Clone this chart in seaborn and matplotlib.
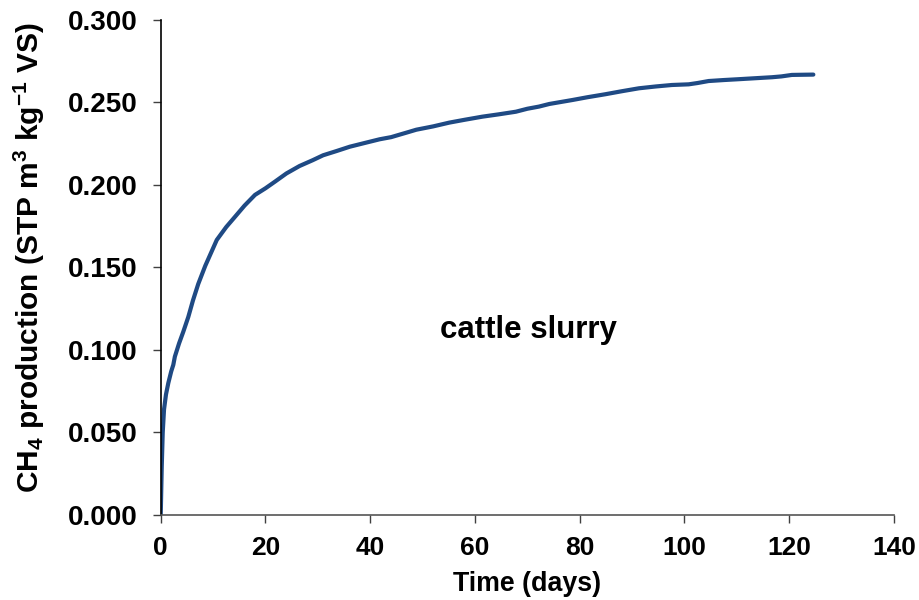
import matplotlib
matplotlib.use("Agg")
import matplotlib.pyplot as plt
import seaborn as sns
import pandas as pd

days = [0, 0.19, 0.38, 0.63, 1.0, 1.45, 2.0, 2.4, 2.7, 3.5, 4.3, 5.26, 6.15, 7.16, 8.5,
        10.7, 12.5, 14.2, 16.0, 18.0, 20.0, 21.8, 24.0, 26.5, 29.0, 31.0, 33.5, 36.1,
        39.0, 41.8, 44.0, 45.6, 47.0, 48.8, 52.0, 55.1, 58.0, 61.4, 64.5, 67.8, 70.0,
        72.2, 74.2, 78.6, 81.5, 84.9, 88.0, 91.3, 94.5, 97.6, 100.8, 102.5, 104.6,
        107.5, 110.3, 113.5, 116.7, 118.5, 120.5, 122.5, 124.6]
ch4 = [0.000, 0.029, 0.050, 0.064, 0.073, 0.080, 0.087, 0.091, 0.096, 0.104, 0.111,
       0.120, 0.130, 0.140, 0.151, 0.1667, 0.1745, 0.1808, 0.1875, 0.194, 0.198,
       0.202, 0.207, 0.2115, 0.215, 0.218, 0.2205, 0.2232, 0.2255, 0.2277, 0.229,
       0.2305, 0.2318, 0.2335, 0.2355, 0.2378, 0.2395, 0.2414, 0.2428, 0.2444,
       0.2462, 0.2475, 0.2491, 0.2515, 0.2532, 0.255, 0.2568, 0.2586, 0.2597,
       0.2606, 0.261, 0.2618, 0.263, 0.2636, 0.2641, 0.2647, 0.2653, 0.2658,
       0.2667, 0.2668, 0.2669]

x_ticks = [0, 20, 40, 60, 80, 100, 120, 140]
y_ticks = [0.0, 0.05, 0.10, 0.15, 0.20, 0.25, 0.30]
y_tick_labels = ["0.000", "0.050", "0.100", "0.150", "0.200", "0.250", "0.300"]

df = pd.DataFrame({"Time (days)": days, "CH4": ch4})

sns.set_theme(style="ticks")
plt.rcParams["font.family"] = ["Liberation Sans", "DejaVu Sans"]
plt.rcParams["font.weight"] = "bold"
plt.rcParams["mathtext.fontset"] = "custom"
plt.rcParams["mathtext.rm"] = "Liberation Sans:bold"
plt.rcParams["mathtext.it"] = "Liberation Sans:bold"
plt.rcParams["mathtext.bf"] = "Liberation Sans:bold"
plt.rcParams["mathtext.default"] = "rm"

fig = plt.figure(figsize=(9.19, 6.0), dpi=100)
ax = fig.add_axes([0.1749, 0.1417, 0.9728 - 0.1749, 0.9667 - 0.1417])

sns.lineplot(data=df, x="Time (days)", y="CH4", ax=ax, color="#1F4A84",
             linewidth=3.0, estimator=None, sort=False)

ax.set_xlim(0, 140)
ax.set_ylim(0, 0.30)
ax.set_xticks(x_ticks)
ax.set_xticklabels([str(t) for t in x_ticks])
ax.set_yticks(y_ticks)
ax.set_yticklabels(y_tick_labels)

for lab in ax.get_yticklabels():
    lab.set_fontweight("bold")
    lab.set_fontsize(20)
    lab.set_color("black")
for lab in ax.get_xticklabels():
    lab.set_fontweight("bold")
    lab.set_fontsize(19)
    lab.set_color("black")

ax.tick_params(axis="y", direction="out", length=5.5, width=1.0, color="#404040", pad=11)
ax.tick_params(axis="x", direction="out", length=6, width=1.0, color="#404040", pad=9)

sns.despine(ax=ax)
ax.spines["left"].set_color("black")
ax.spines["bottom"].set_color("#555555")
ax.spines["left"].set_linewidth(1.2)
ax.spines["bottom"].set_linewidth(1.2)

ax.set_xlabel("Time (days)", fontsize=19.3, fontweight="bold", color="black", labelpad=8)
ax.set_ylabel(r"CH$_4$ production (STP m$^3$ kg$^{-1}$ VS)", fontsize=21.5,
              fontweight="bold", color="black", labelpad=15)
ax.yaxis.label.set_y(0.52)

ax.text(70.2, 0.112, "cattle slurry", fontsize=22.5, fontweight="bold",
        ha="center", va="center", color="black")

fig.savefig("out.png", dpi=100)
